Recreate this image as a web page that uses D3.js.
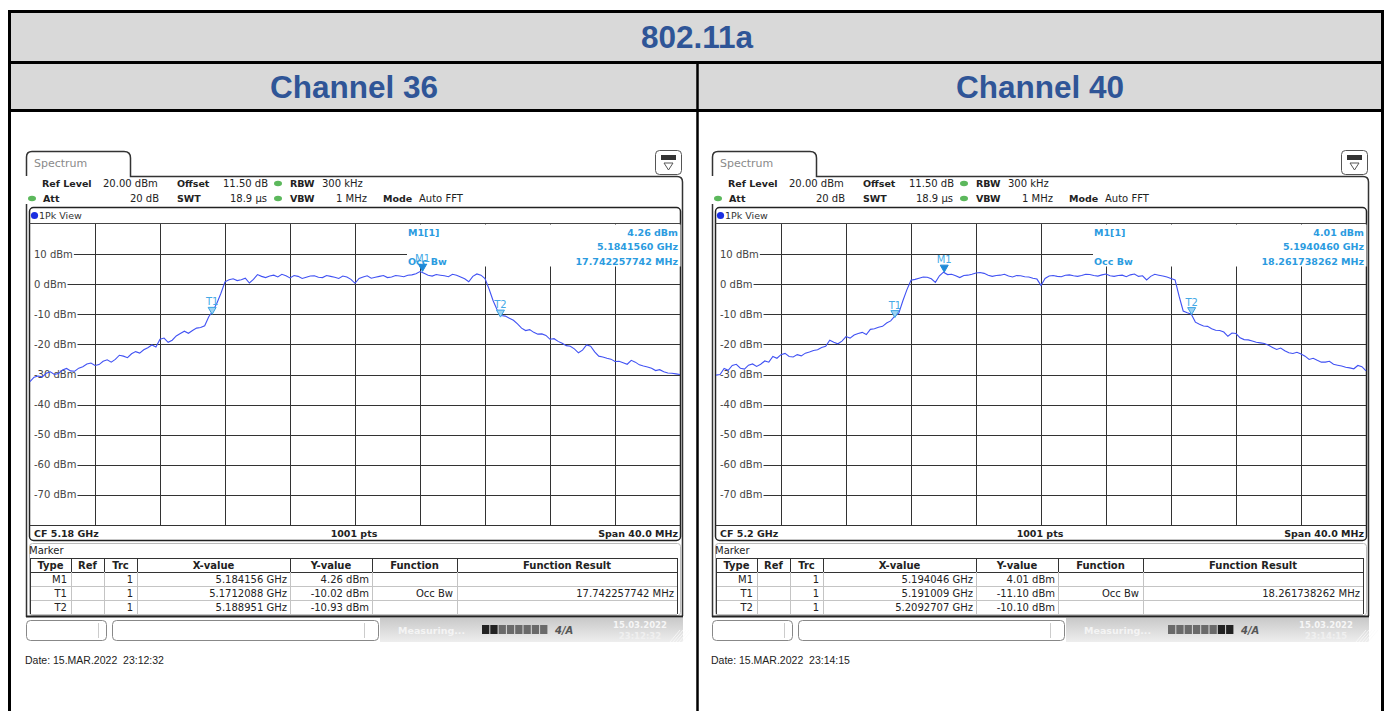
<!DOCTYPE html>
<html>
<head>
<meta charset="utf-8">
<script src="https://cdn.jsdelivr.net/npm/d3@7"></script>
<style>
  body { margin: 0; background: #fff; }
  svg text { font-family: "DejaVu Sans", Verdana, sans-serif; white-space: pre; }
</style>
</head>
<body>
<script>
var W = 1389, H = 711;

// header texts
var pageTitle = "802.11a";
var channelNames = ["Channel 36", "Channel 40"];

// analyzer settings
var centerFreqs = [5.18, 5.2];            // GHz
var cfLabels = ["CF 5.18 GHz", "CF 5.2 GHz"];
var spanMHz = 40;
var stepMHz = 0.25;
var levelTicks = [10, 0, -10, -20, -30, -40, -50, -60, -70];

// peak trace, dBm, one value per 0.25 MHz from CF-20 MHz to CF+20 MHz
var trace36 = [
  -32.4, -30.9, -30.5, -30.8, -29.6, -29.1, -30.0, -29.7, -28.5, -28.0,
  -28.8, -28.9, -27.9, -27.4, -26.5, -26.2, -27.0, -26.7, -25.6, -25.1,
  -25.9, -25.0, -23.6, -23.9, -24.4, -23.1, -22.4, -22.9, -21.8, -21.1,
  -20.2, -20.9, -18.3, -17.9, -19.3, -18.6, -17.2, -16.4, -15.6, -16.3,
  -15.4, -14.6, -14.4, -13.8, -10.8, -8.9, -6.3, -3.0, 0.8, 1.5,
  1.8, 1.2, 1.5, 2.0, 0.4, 1.6, 3.2, 2.6, 2.2, 2.7,
  3.0, 2.4, 3.3, 2.8, 2.1, 2.9, 2.6, 1.9, 2.3, 2.7,
  2.8, 2.3, 2.2, 2.9, 2.6, 2.3, 1.9, 2.7, 2.4, 1.6,
  0.3, 1.9, 2.4, 2.8, 2.0, 2.3, 2.6, 2.9, 2.2, 2.4,
  2.9, 2.7, 2.5, 3.0, 3.1, 3.5, 4.2, 3.6, 3.0, 2.7,
  3.2, 3.0, 2.8, 2.5, 3.3, 3.0, 2.4, 1.8, 0.8, 2.6,
  3.4, 3.0, 1.9, -1.6, -5.5, -8.6, -10.4, -10.6, -11.3, -12.0,
  -13.2, -14.6, -15.4, -15.1, -16.0, -16.6, -16.5, -17.0, -18.3, -18.1,
  -19.0, -19.6, -20.4, -20.6, -21.5, -22.8, -21.9, -20.2, -20.6, -22.5,
  -23.9, -24.2, -24.6, -24.9, -25.7, -25.6, -26.1, -26.6, -25.3, -25.9,
  -26.8, -27.2, -27.5, -27.9, -28.7, -28.4, -29.1, -29.5, -29.6, -29.8,
  -30.0
];
var trace40 = [
  -30.2, -30.0, -28.0, -28.6, -27.0, -26.6, -27.9, -28.2, -26.9, -26.5,
  -27.3, -26.6, -25.5, -25.9, -24.0, -24.6, -23.4, -23.0, -24.0, -24.2,
  -23.4, -23.8, -22.9, -22.5, -22.0, -21.8, -21.0, -20.6, -18.6, -19.3,
  -19.8, -18.9, -17.4, -17.9, -16.9, -16.4, -16.0, -16.7, -15.0, -14.8,
  -14.3, -14.0, -12.9, -12.2, -10.6, -9.6, -5.5, -1.8, 1.3, 1.6,
  2.0, 2.4, 2.3, 1.8, 0.6, 2.8, 4.0, 3.2, 3.3, 2.8,
  2.2, 2.9, 3.0, 3.3, 3.7, 3.9, 3.6, 3.0, 2.6, 2.9,
  3.0, 3.3, 2.7, 2.4, 2.9, 2.8, 2.5, 2.4, 2.0, 1.7,
  -0.4, 1.9, 2.7, 2.9, 2.6, 2.5, 3.0, 3.1, 2.8, 2.6,
  2.9, 3.3, 3.2, 2.9, 2.7, 3.1, 3.4, 2.8, 2.6, 2.9,
  3.0, 2.5, 3.1, 3.4, 2.6, 2.8, 1.4, 2.6, 3.3, 3.0,
  2.7, 2.4, 1.9, 1.4, -4.0, -8.9, -9.5, -10.0, -12.6, -13.3,
  -13.9, -14.0, -14.8, -15.3, -15.4, -15.9, -17.3, -16.2, -16.4, -17.8,
  -18.4, -18.5, -18.9, -19.3, -19.5, -19.7, -20.3, -21.0, -21.7, -21.2,
  -22.1, -22.8, -23.0, -22.6, -23.2, -23.9, -25.0, -24.6, -25.3, -25.9,
  -25.9, -25.6, -26.6, -26.9, -27.2, -27.6, -27.8, -28.1, -27.0, -27.4,
  -28.8
];

// markers
var markerNames = ["M1", "T1", "T2"];
var markerFreq36 = [5.184156, 5.1712088, 5.188951];
var markerLevel36 = [4.26, -10.02, -10.93];
var markerFreq40 = [5.194046, 5.191009, 5.2092707];
var markerLevel40 = [4.01, -11.10, -10.10];
var markerX36 = ["5.184156 GHz", "5.1712088 GHz", "5.188951 GHz"];
var markerY36 = ["4.26 dBm", "-10.02 dBm", "-10.93 dBm"];
var markerX40 = ["5.194046 GHz", "5.191009 GHz", "5.2092707 GHz"];
var markerY40 = ["4.01 dBm", "-11.10 dBm", "-10.10 dBm"];
var m1Freq = ["5.1841560 GHz", "5.1940460 GHz"];
var occBw = ["17.742257742 MHz", "18.261738262 MHz"];
var shotDates = ["Date: 15.MAR.2022  23:12:32", "Date: 15.MAR.2022  23:14:15"];
var shotTimes = ["23:12:32", "23:14:15"];

var svg = d3.select("body").append("svg")
  .attr("width", W).attr("height", H);

// ---- outer table ----
svg.append("rect").attr("x", 10).attr("y", 11).attr("width", 1372).attr("height", 99).attr("fill", "#d9d9d9");
svg.append("rect").attr("x", 9.5).attr("y", 11.5).attr("width", 1373).attr("height", 720)
  .attr("fill", "none").attr("stroke", "#000").attr("stroke-width", 3);
svg.append("line").attr("x1", 9).attr("x2", 1383).attr("y1", 62.5).attr("y2", 62.5).attr("stroke", "#000").attr("stroke-width", 3);
svg.append("line").attr("x1", 9).attr("x2", 1383).attr("y1", 110.5).attr("y2", 110.5).attr("stroke", "#000").attr("stroke-width", 3);
svg.append("line").attr("x1", 697.5).attr("x2", 697.5).attr("y1", 62).attr("y2", 720).attr("stroke", "#000").attr("stroke-width", 2.5);

svg.append("text").attr("x", 697).attr("y", 48).attr("text-anchor", "middle")
  .style("font-family", "'Liberation Sans', Arial, sans-serif").style("font-weight", "bold")
  .style("font-size", "31.5px").attr("fill", "#2f5597").text(pageTitle);
channelNames.forEach(function(n, i) {
  svg.append("text").attr("x", 354 + i * 686).attr("y", 98).attr("text-anchor", "middle")
    .style("font-family", "'Liberation Sans', Arial, sans-serif").style("font-weight", "bold")
    .style("font-size", "31.5px").attr("fill", "#2f5597").text(n);
});

var defs = svg.append("defs");
var grad = defs.append("linearGradient").attr("id", "stat").attr("x1", 0).attr("x2", 0).attr("y1", 0).attr("y2", 1);
grad.append("stop").attr("offset", "0%").attr("stop-color", "#c9c9c9");
grad.append("stop").attr("offset", "100%").attr("stop-color", "#eeeeee");

var blueTxt = "#2b9be0";

function txt(g, x, y, s, opt) {
  opt = opt || {};
  return g.append("text").attr("x", x).attr("y", y)
    .attr("text-anchor", opt.anchor || "start")
    .style("font-size", (opt.size || 10) + "px")
    .style("font-weight", opt.bold ? "bold" : "normal")
    .attr("fill", opt.fill || "#222")
    .text(s);
}

function drawPanel(i) {
  var g = svg.append("g").attr("transform", "translate(" + (i * 686) + ",0)");
  var cf = centerFreqs[i];
  var trace = i == 0 ? trace36 : trace40;
  var mF = i == 0 ? markerFreq36 : markerFreq40;
  var mL = i == 0 ? markerLevel36 : markerLevel40;
  var mX = i == 0 ? markerX36 : markerX40;
  var mY = i == 0 ? markerY36 : markerY40;

  var x = d3.scaleLinear().domain([cf - spanMHz / 2000, cf + spanMHz / 2000]).range([30, 680]);
  var y = d3.scaleLinear().domain([-80, 20]).range([525, 224]);

  // tab + window frame
  g.append("path")
    .attr("d", "M26.5,176 V157 Q26.5,151.5 32,151.5 H124 Q130.5,151.5 130.5,158 V176.5 H677 Q682.5,176.5 682.5,182 V616")
    .attr("fill", "none").attr("stroke", "#333").attr("stroke-width", 1.5);
  g.append("line").attr("x1", 26.5).attr("x2", 26.5).attr("y1", 204).attr("y2", 617)
    .attr("stroke", "#333").attr("stroke-width", 1.5);
  txt(g, 34, 167, "Spectrum", {size: 11, fill: "#8a8a8a"});

  // icon top right
  g.append("rect").attr("x", 655.5).attr("y", 150.5).attr("width", 26).attr("height", 24).attr("rx", 4)
    .attr("fill", "#fff").attr("stroke", "#555");
  g.append("rect").attr("x", 661).attr("y", 155).attr("width", 15).attr("height", 5).attr("fill", "#333");
  g.append("path").attr("d", "M664,163 L673,163 L668.5,170 Z").attr("fill", "none").attr("stroke", "#555");

  // settings lines
  txt(g, 42, 187, "Ref Level", {bold: true, size: 9.5});
  txt(g, 103, 187, "20.00 dBm", {size: 10});
  txt(g, 177, 187, "Offset", {bold: true, size: 9.5});
  txt(g, 268, 187, "11.50 dB", {size: 10, anchor: "end"});
  txt(g, 290, 187, "RBW", {bold: true, size: 9.5});
  txt(g, 322, 187, "300 kHz", {size: 10});
  txt(g, 43, 202, "Att", {bold: true, size: 9.5});
  txt(g, 159, 202, "20 dB", {size: 10, anchor: "end"});
  txt(g, 177, 202, "SWT", {bold: true, size: 9.5});
  txt(g, 267, 202, "18.9 \u00b5s", {size: 10, anchor: "end"});
  txt(g, 290, 202, "VBW", {bold: true, size: 9.5});
  txt(g, 367, 202, "1 MHz", {size: 10, anchor: "end"});
  txt(g, 383, 202, "Mode", {bold: true, size: 9.5});
  txt(g, 419, 202, "Auto FFT", {size: 10});
  [[278, 183.5], [32, 198.5], [278, 198.5]].forEach(function(p) {
    g.append("ellipse").attr("cx", p[0]).attr("cy", p[1]).attr("rx", 4).attr("ry", 2.8).attr("fill", "#5cb85c");
  });

  // diagram box
  g.append("rect").attr("x", 29.5).attr("y", 207.5).attr("width", 651).attr("height", 333).attr("rx", 4)
    .attr("fill", "#fff").attr("stroke", "#222").attr("stroke-width", 1.5);
  g.append("line").attr("x1", 29.5).attr("x2", 680.5).attr("y1", 223.5).attr("y2", 223.5).attr("stroke", "#444");
  g.append("circle").attr("cx", 34.5).attr("cy", 215.5).attr("r", 3.6).attr("fill", "#1a2ee0");
  txt(g, 39, 219, "1Pk View", {size: 9.5, fill: "#333"});

  // grid: vertical lines every 4 MHz
  var vLines = d3.range(1, 10).map(function(k) { return cf - spanMHz / 2000 + k * 0.004; });
  g.selectAll(".vg").data(vLines).enter().append("line")
    .attr("x1", function(d) { return Math.round(x(d)) + 0.5; })
    .attr("x2", function(d) { return Math.round(x(d)) + 0.5; })
    .attr("y1", y(20)).attr("y2", y(-80))
    .attr("stroke", "#333").attr("stroke-width", 1);

  // horizontal level lines with labels
  levelTicks.forEach(function(t) {
    var lab = txt(g, 34, y(t) + 3.5, t + " dBm", {size: 10, fill: "#444"});
    var w = lab.node().getComputedTextLength();
    g.append("line").attr("x1", 34 + w + 1).attr("x2", 680)
      .attr("y1", Math.round(y(t)) + 0.5).attr("y2", Math.round(y(t)) + 0.5)
      .attr("stroke", "#333").attr("stroke-width", 1);
  });

  // marker info block
  g.append("rect").attr("x", 407).attr("y", 224.5).attr("width", 273.5).attr("height", 42).attr("fill", "#fff");
  txt(g, 408, 236, "M1[1]", {bold: true, size: 9.5, fill: blueTxt});
  txt(g, 678, 236, mY[0], {bold: true, size: 9.5, fill: blueTxt, anchor: "end"});
  txt(g, 678, 250, m1Freq[i], {bold: true, size: 9.5, fill: blueTxt, anchor: "end"});
  txt(g, 408, 265, "Occ Bw", {bold: true, size: 9.5, fill: blueTxt});
  txt(g, 678, 265, occBw[i], {bold: true, size: 9.5, fill: blueTxt, anchor: "end"});

  // trace
  var line = d3.line()
    .x(function(d, k) { return x(cf - spanMHz / 2000 + k * stepMHz / 1000); })
    .y(function(d) { return y(d); });
  g.append("path").datum(trace).attr("d", line)
    .attr("fill", "none").attr("stroke", "#4152f3").attr("stroke-width", 1.1);

  // markers
  markerNames.forEach(function(n, k) {
    var px = x(mF[k]), py = y(mL[k]);
    g.append("path").attr("d", "M" + (px - 4) + "," + (py - 7) + " L" + (px + 4) + "," + (py - 7) + " L" + px + "," + py + " Z")
      .attr("fill", k == 0 ? "#1f8ad8" : "#9fd3f2").attr("stroke", k == 0 ? "#1f8ad8" : "#3aa3e3");
    txt(g, px, py - 9, n, {size: 10, fill: "#45a9e6", anchor: "middle"});
  });

  // bottom bar
  g.append("line").attr("x1", 29.5).attr("x2", 680.5).attr("y1", 525.5).attr("y2", 525.5).attr("stroke", "#333");
  txt(g, 34, 537, cfLabels[i], {bold: true, size: 9.5});
  txt(g, 354, 537, "1001 pts", {bold: true, size: 9.5, anchor: "middle"});
  txt(g, 678, 537, "Span " + spanMHz.toFixed(1) + " MHz", {bold: true, size: 9.5, anchor: "end"});

  // marker table
  g.append("rect").attr("x", 29.5).attr("y", 543.5).attr("width", 651).attr("height", 72).attr("rx", 3)
    .attr("fill", "#fff").attr("stroke", "#bbb");
  txt(g, 29, 554, "Marker", {size: 10, fill: "#222"});
  var cols = [30, 71, 104, 137, 290, 372, 457, 677];
  var heads = ["Type", "Ref", "Trc", "X-value", "Y-value", "Function", "Function Result"];
  var rowY = [558, 572, 586, 600, 614];
  rowY.forEach(function(ry, r) {
    g.append("line").attr("x1", 30).attr("x2", 677).attr("y1", ry + 0.5).attr("y2", ry + 0.5)
      .attr("stroke", r < 2 ? "#333" : "#c4c4c4");
  });
  cols.forEach(function(cx, c) {
    g.append("line").attr("x1", cx + 0.5).attr("x2", cx + 0.5).attr("y1", 558).attr("y2", 572)
      .attr("stroke", "#333");
    g.append("line").attr("x1", cx + 0.5).attr("x2", cx + 0.5).attr("y1", 572).attr("y2", 614)
      .attr("stroke", c == 0 || c == 7 ? "#333" : "#c4c4c4");
  });
  heads.forEach(function(h, c) {
    txt(g, (cols[c] + cols[c + 1]) / 2, 569, h, {bold: true, size: 10, anchor: "middle"});
  });
  markerNames.forEach(function(n, k) {
    var by = 583 + k * 14;
    txt(g, 67, by, n, {size: 10, anchor: "end"});
    txt(g, 133, by, "1", {size: 10, anchor: "end"});
    txt(g, 287, by, mX[k], {size: 10, anchor: "end"});
    txt(g, 369, by, mY[k], {size: 10, anchor: "end"});
    if (n == "T1") {
      txt(g, 453, by, "Occ Bw", {size: 10, anchor: "end"});
      txt(g, 674, by, occBw[i], {size: 10, anchor: "end"});
    }
  });
  g.append("line").attr("x1", 26).attr("x2", 683).attr("y1", 616.5).attr("y2", 616.5)
    .attr("stroke", "#222").attr("stroke-width", 2);

  // status bar
  g.append("rect").attr("x", 26.5).attr("y", 620.5).attr("width", 80).attr("height", 20).attr("rx", 4)
    .attr("fill", "#fff").attr("stroke", "#888");
  g.append("line").attr("x1", 98.5).attr("x2", 98.5).attr("y1", 623).attr("y2", 638).attr("stroke", "#ccc");
  g.append("rect").attr("x", 112.5).attr("y", 620.5).attr("width", 266).attr("height", 20).attr("rx", 4)
    .attr("fill", "#fff").attr("stroke", "#888");
  g.append("line").attr("x1", 364.5).attr("x2", 364.5).attr("y1", 623).attr("y2", 638).attr("stroke", "#ccc");
  g.append("rect").attr("x", 380).attr("y", 618).attr("width", 303).attr("height", 24).attr("fill", "url(#stat)");
  txt(g, 398, 634, "Measuring...", {bold: true, size: 9.5, fill: "#f4f4f4"});
  d3.range(8).forEach(function(k) {
    var on = i == 0 ? k < 2 : k >= 6;
    g.append("rect").attr("x", 482 + k * 8.3).attr("y", 625).attr("width", 7.3).attr("height", 9)
      .attr("fill", on ? "#222" : "#6a6a6a");
  });
  txt(g, 555, 634, "4/A", {bold: true, size: 10, fill: "#555"}).style("font-style", "italic");
  txt(g, 640, 628, "15.03.2022", {bold: true, size: 8.5, fill: "#f6f6f6", anchor: "middle"});
  txt(g, 640, 639, shotTimes[i], {bold: true, size: 8.5, fill: "#f0f0f0", anchor: "middle"});
  d3.range(5).forEach(function(k) {
    g.append("line").attr("x1", 670 + k * 3).attr("x2", 680 + k * 3).attr("y1", 642).attr("y2", 630)
      .attr("stroke", "#fafafa").attr("stroke-width", 0.8);
  });

  // capture date
  g.append("text").attr("x", 25).attr("y", 664)
    .style("font-family", "'Liberation Sans', Arial, sans-serif").style("font-size", "10.5px")
    .attr("fill", "#222").text(shotDates[i]);
}

drawPanel(0);
drawPanel(1);
</script>
</body>
</html>
